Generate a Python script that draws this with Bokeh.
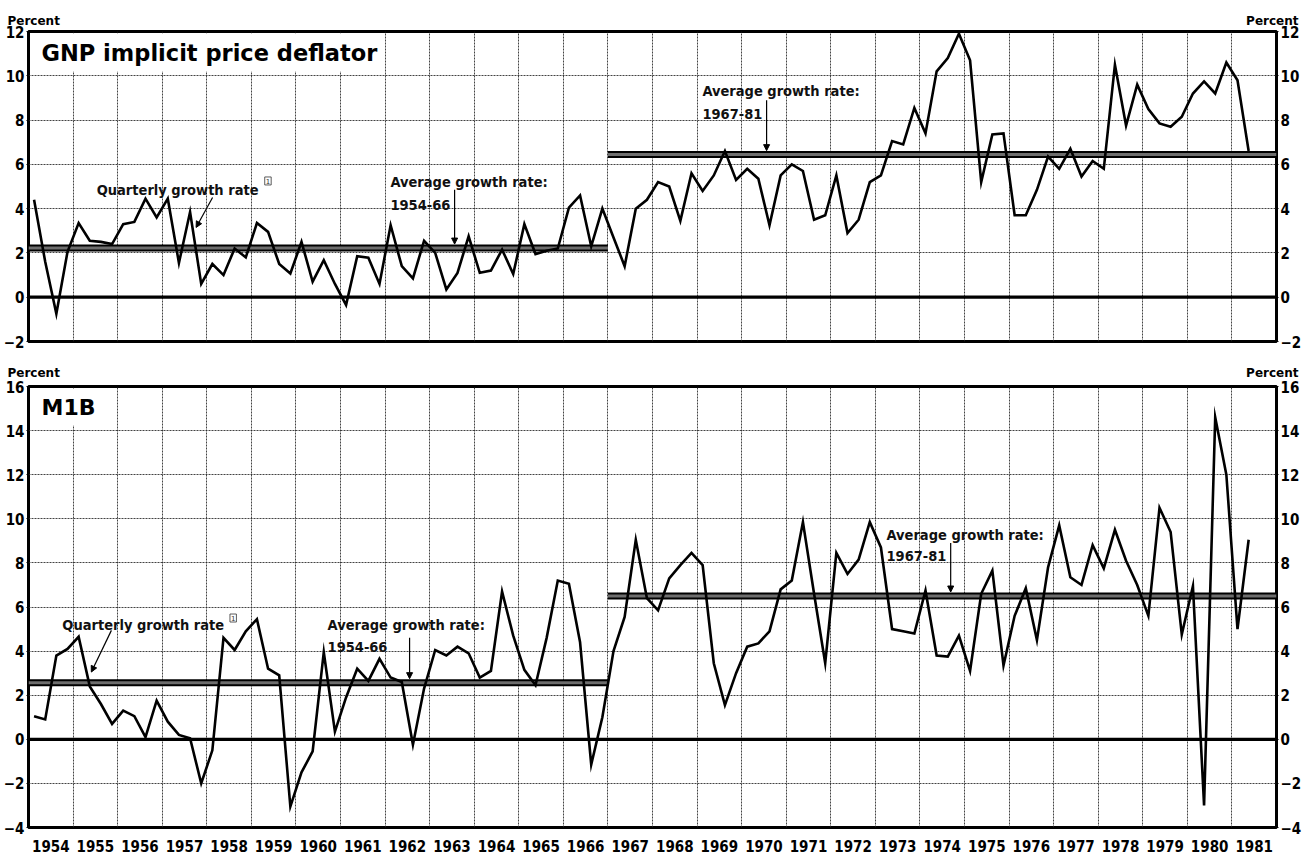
import numpy as np
from bokeh.plotting import figure
from bokeh.models import (Range1d, LinearAxis, FixedTicker, Label, Arrow, NormalHead,
                          Span, Grid, CustomJSTickFormatter, ColumnDataSource)
from bokeh.layouts import column
from bokeh.embed import file_html
from bokeh.resources import INLINE

# ---------------- data ----------------
years = list(range(1954, 1982))
year_bounds = list(range(1954, 1983))

# GNP implicit price deflator, quarterly growth rate (percent), 1954Q1 - 1981Q2
gnp_deflator = [
    4.4, 1.6, -0.75, 2.05,     # 1954
    3.35, 2.55, 2.5, 2.4,      # 1955
    3.3, 3.4, 4.45, 3.6,       # 1956
    4.45, 1.55, 3.85, 0.6,     # 1957
    1.5, 1.0, 2.2, 1.8,        # 1958
    3.35, 2.95, 1.5, 1.07,     # 1959
    2.5, 0.7, 1.67, 0.6,       # 1960
    -0.35, 1.85, 1.78, 0.6,    # 1961
    3.25, 1.4, 0.85, 2.55,     # 1962
    2.0, 0.35, 1.1, 2.75,      # 1963
    1.1, 1.2, 2.15, 1.05,      # 1964
    3.3, 1.95, 2.1, 2.2,       # 1965
    4.05, 4.6, 2.3, 4.0,       # 1966
    2.7, 1.4, 4.0, 4.4,        # 1967
    5.2, 5.0, 3.45, 5.6,       # 1968
    4.8, 5.5, 6.6, 5.3,        # 1969
    5.8, 5.35, 3.25, 5.5,      # 1970
    6.0, 5.7, 3.5, 3.7,        # 1971
    5.5, 2.9, 3.5, 5.2,        # 1972
    5.5, 7.05, 6.9, 8.55,      # 1973
    7.4, 10.2, 10.8, 11.9,     # 1974
    10.7, 5.2, 7.35, 7.4,      # 1975
    3.7, 3.7, 4.85, 6.35,      # 1976
    5.8, 6.7, 5.45, 6.15,      # 1977
    5.8, 10.5, 7.75, 9.6,      # 1978
    8.5, 7.85, 7.7, 8.15,      # 1979
    9.2, 9.75, 9.2, 10.6,      # 1980
    9.8, 6.6,                  # 1981
]

# M1B, quarterly growth rate (percent), 1954Q1 - 1981Q2
m1b = [
    1.05, 0.9, 3.8, 4.1,       # 1954
    4.65, 2.4, 1.6, 0.7,       # 1955
    1.3, 1.05, 0.1, 1.75,      # 1956
    0.8, 0.2, 0.05, -2.0,      # 1957
    -0.5, 4.6, 4.05, 4.9,      # 1958
    5.45, 3.2, 2.9, -3.05,     # 1959
    -1.5, -0.55, 3.95, 0.35,   # 1960
    1.9, 3.2, 2.65, 3.65,      # 1961
    2.8, 2.6, -0.25, 2.3,      # 1962
    4.05, 3.8, 4.2, 3.9,       # 1963
    2.8, 3.1, 6.7, 4.7,        # 1964
    3.15, 2.45, 4.6, 7.2,      # 1965
    7.05, 4.4, -1.15, 1.0,     # 1966
    4.0, 5.55, 9.05, 6.4,      # 1967
    5.85, 7.3, 7.9, 8.45,      # 1968
    7.9, 3.45, 1.55, 3.0,      # 1969
    4.2, 4.35, 4.9, 6.8,       # 1970
    7.2, 9.85, 6.6, 3.45,      # 1971
    8.45, 7.5, 8.15, 9.85,     # 1972
    8.7, 5.0, 4.9, 4.8,        # 1973
    6.75, 3.8, 3.75, 4.7,      # 1974
    3.1, 6.6, 7.65, 3.35,      # 1975
    5.6, 6.85, 4.5, 7.8,       # 1976
    9.7, 7.35, 7.0, 8.8,       # 1977
    7.75, 9.5, 8.1, 7.0,       # 1978
    5.6, 10.5, 9.4, 4.75,      # 1979
    6.95, -3.0, 14.6, 12.0,    # 1980
    5.0, 9.05,                 # 1981
]

quarter_t = [y + (q + 0.5) / 4 for y in years for q in range(4)]

avg_periods = ["1954-66", "1967-81"]
avg_start = [1954, 1967]
avg_end = [1967, 1982]
gnp_avg = [2.22, 6.45]
m1b_avg = [2.57, 6.5]

# ---------------- styling ----------------
NARROW = "DejaVu Sans Condensed"
FRAME_W = 1248
NOTE_SIZE = "14.5px"


def make_panel(values, avgs, ymin, ymax, frame_h, b_top, b_bottom, with_years,
               title, title_size, pct_dy):
    p = figure(frame_width=FRAME_W, frame_height=frame_h,
               x_range=Range1d(1954, 1982), y_range=Range1d(ymin, ymax),
               x_axis_type=None, y_axis_type=None,
               output_backend="svg", toolbar_location=None,
               min_border_left=21, min_border_right=22,
               min_border_top=b_top, min_border_bottom=b_bottom,
               background_fill_color="white", border_fill_color="white")
    p.outline_line_color = "black"
    p.outline_line_width = 3

    yt = FixedTicker(ticks=list(range(ymin, ymax + 1, 2)))
    for side in ("left", "right"):
        ax = LinearAxis(ticker=yt, axis_line_color=None,
                        major_tick_in=0, major_tick_out=2,
                        major_tick_line_color="black", minor_tick_line_color=None,
                        major_label_standoff=2,
                        major_label_text_font=NARROW,
                        major_label_text_font_style="bold",
                        major_label_text_font_size="15px",
                        major_label_text_color="black")
        p.add_layout(ax, side)

    if with_years:
        xa = LinearAxis(ticker=FixedTicker(ticks=[y + 0.5 for y in years]),
                        formatter=CustomJSTickFormatter(code="return String(Math.floor(tick));"),
                        axis_line_color=None, major_tick_line_color=None,
                        minor_tick_line_color=None, major_label_standoff=6,
                        major_label_text_font=NARROW,
                        major_label_text_font_style="bold",
                        major_label_text_font_size="15px",
                        major_label_text_color="black")
        p.add_layout(xa, "below")

    grid_kw = dict(grid_line_color="#222222", grid_line_width=1,
                   grid_line_dash="2 1", grid_line_alpha=0.85)
    p.add_layout(Grid(dimension=0, ticker=FixedTicker(ticks=year_bounds), **grid_kw))
    p.add_layout(Grid(dimension=1, ticker=yt, **grid_kw))

    p.add_layout(Span(location=0, dimension="width", line_color="black", line_width=3.2))

    src = ColumnDataSource(dict(x0=avg_start, x1=avg_end, y=avgs))
    p.segment(x0="x0", x1="x1", y0="y", y1="y", source=src, line_color="black", line_width=7)
    p.segment(x0="x0", x1="x1", y0="y", y1="y", source=src, line_color="#6e6e6e", line_width=3)

    n = len(values)
    p.line(quarter_t[:n], values, line_color="black", line_width=2.6, line_join="miter")

    p.add_layout(Label(x=1954, y=ymax, x_offset=7, y_offset=-2, text=title,
                       text_baseline="top", text_font="DejaVu Sans", text_font_style="bold",
                       text_font_size=title_size, text_color="black",
                       background_fill_color="white", padding=6))

    for xx, off, al in ((1954, -21, "left"), (1982, 22, "right")):
        p.add_layout(Label(x=xx, y=ymax, x_offset=off, y_offset=pct_dy, text="Percent",
                           text_align=al, text_baseline="alphabetic",
                           text_font="DejaVu Sans", text_font_style="bold",
                           text_font_size="12px", text_color="black"), "above")
    return p


def add_text(p, x, y, lines, dy):
    for i, t in enumerate(lines):
        p.add_layout(Label(x=x, y=y - i * dy, text=t, text_baseline="alphabetic",
                           text_font=NARROW, text_font_style="bold",
                           text_font_size=NOTE_SIZE, text_color="#111111"))


def add_arrow(p, x0, y0, x1, y1):
    p.add_layout(Arrow(x_start=x0, y_start=y0, x_end=x1, y_end=y1,
                       line_color="black", line_width=1.2,
                       end=NormalHead(size=6, fill_color="black", line_color="black")))


def add_note(p, x, y):
    p.add_layout(Label(x=x, y=y, text="1", text_baseline="middle",
                       text_font="DejaVu Sans", text_font_size="7px",
                       text_color="#333333", border_line_color="#333333",
                       border_line_width=0.8, padding=1))


# ---------------- top panel ----------------
p1 = make_panel(gnp_deflator, gnp_avg, -2, 12, 310, 31, 10, False,
                "GNP implicit price deflator", "22.5px", 11)
add_text(p1, 1955.53, 4.85, ["Quarterly growth rate"], 0)
add_note(p1, 1959.3, 5.25)
add_arrow(p1, 1958.13, 4.5, 1957.76, 3.15)
add_text(p1, 1962.12, 5.19, ["Average growth rate:", "1954-66"], 1.04)
add_arrow(p1, 1963.56, 4.85, 1963.56, 2.4)
add_text(p1, 1969.12, 9.3, ["Average growth rate:", "1967-81"], 1.04)
add_arrow(p1, 1970.56, 8.9, 1970.56, 6.62)

# ---------------- bottom panel ----------------
p2 = make_panel(m1b, m1b_avg, -4, 16, 441, 35, 23, True, "M1B", "22px", 14)
add_text(p2, 1954.76, 5.17, ["Quarterly growth rate"], 0)
add_note(p2, 1958.52, 5.5)
add_arrow(p2, 1955.86, 4.94, 1955.41, 3.05)
add_text(p2, 1960.71, 5.2, ["Average growth rate:", "1954-66"], 1.0)
add_arrow(p2, 1962.55, 4.6, 1962.55, 2.75)
add_text(p2, 1973.25, 9.25, ["Average growth rate:", "1967-81"], 0.95)
add_arrow(p2, 1974.69, 8.9, 1974.69, 6.68)

layout = column(p1, p2, spacing=0)
open("out.html", "w").write(file_html(layout, INLINE))
